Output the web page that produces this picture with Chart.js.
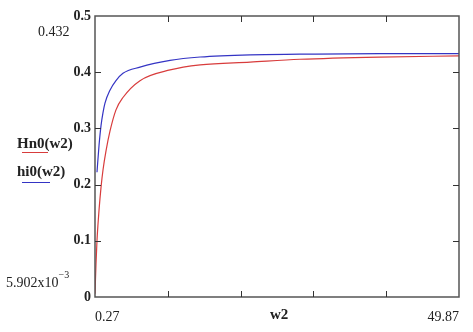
<!DOCTYPE html>
<html>
<head>
<meta charset="utf-8">
<script src="https://cdn.jsdelivr.net/npm/chart.js@4/dist/chart.umd.min.js"></script>
<style>
  body { margin: 0; background: #fff; }
  #wrap { position: relative; width: 473px; height: 332px; }
  .lbl { position: absolute; font-family: "Liberation Serif", "Times New Roman", serif; color: #222; white-space: nowrap; line-height: 1; }
  .b { font-weight: bold; }
</style>
</head>
<body>
<div id="wrap">
  <canvas id="c" width="473" height="332"></canvas>
  <div class="lbl" style="left:38px;top:25px;font-size:14px;">0.432</div>
  <div class="lbl" style="left:6px;top:276px;font-size:14px;">5.902x10<span style="position:relative;top:-9px;font-size:10px;">&minus;3</span></div>
  <div class="lbl b" style="left:17px;top:136px;font-size:15px;">Hn0(w2)</div>
  <div style="position:absolute;left:22px;top:152px;width:26px;height:1px;background:#d83c3c;"></div>
  <div class="lbl b" style="left:17px;top:164px;font-size:15px;">hi0(w2)</div>
  <div style="position:absolute;left:22px;top:182px;width:28px;height:1px;background:#3434c4;"></div>
  <div class="lbl b" style="left:270px;top:307px;font-size:15px;">w2</div>
</div>
<script>
// values
const wHi = [0.54, 0.82, 1.09, 1.36, 1.63, 2.31, 3.13, 4.08, 6.4, 10.5, 14.6, 21.4, 28.2, 39.1, 49.87];
const hi0 = [0.222, 0.27, 0.305, 0.328, 0.345, 0.368, 0.385, 0.398, 0.409, 0.421, 0.427, 0.431, 0.432, 0.433, 0.433];

const wHn = [0.27, 0.41, 0.54, 0.68, 0.82, 1.09, 1.36, 1.77, 2.31, 3.13, 4.08, 6.4, 10.5, 14.6, 21.4, 28.2, 39.1, 49.87];
const Hn0 = [0.0059, 0.06, 0.1, 0.13, 0.155, 0.195, 0.226, 0.26, 0.295, 0.333, 0.355, 0.385, 0.404, 0.413, 0.418, 0.423, 0.427, 0.429];

const xMin = 0.27, xMax = 49.87;
const xTicks = [0.27, 10.19, 20.11, 30.03, 39.95, 49.87];
const yTicks = [0, 0.1, 0.2, 0.3, 0.4, 0.5];

const pts = (xs, ys) => xs.map((x, i) => ({ x: x, y: ys[i] }));

// frame and inside tick marks, Mathcad style
const frame = {
  id: 'frame',
  afterDraw(chart) {
    const { ctx, chartArea: a, scales } = chart;
    ctx.save();
    ctx.strokeStyle = '#555';
    ctx.lineWidth = 1.5;
    ctx.strokeRect(a.left, a.top, a.right - a.left, a.bottom - a.top);
    ctx.strokeStyle = '#333';
    ctx.lineWidth = 1;
    ctx.beginPath();
    xTicks.slice(1, -1).forEach(v => {
      const px = Math.round(scales.x.getPixelForValue(v)) + 0.5;
      ctx.moveTo(px, a.bottom); ctx.lineTo(px, a.bottom - 6);
      ctx.moveTo(px, a.top); ctx.lineTo(px, a.top + 6);
    });
    yTicks.slice(1, -1).forEach(v => {
      const py = Math.round(scales.y.getPixelForValue(v)) + 0.5;
      ctx.moveTo(a.left, py); ctx.lineTo(a.left + 6, py);
      ctx.moveTo(a.right, py); ctx.lineTo(a.right - 6, py);
    });
    ctx.stroke();
    ctx.restore();
  }
};

new Chart(document.getElementById('c'), {
  type: 'line',
  data: {
    datasets: [
      {
        label: 'Hn0(w2)',
        data: pts(wHn, Hn0),
        borderColor: '#d83c3c',
        borderWidth: 1.2,
        pointRadius: 0,
        cubicInterpolationMode: 'monotone',
        fill: false,
      },
      {
        label: 'hi0(w2)',
        data: pts(wHi, hi0),
        borderColor: '#3434c4',
        borderWidth: 1.2,
        pointRadius: 0,
        cubicInterpolationMode: 'monotone',
        fill: false,
      },
    ],
  },
  options: {
    responsive: false,
    animation: false,
    layout: { padding: { top: 16, right: 14, left: 0, bottom: 0 } },
    plugins: { legend: { display: false }, tooltip: { enabled: false } },
    scales: {
      x: {
        type: 'linear',
        min: xMin,
        max: xMax,
        grid: { display: false, drawTicks: false },
        border: { display: false },
        afterBuildTicks: s => { s.ticks = xTicks.map(v => ({ value: v })); },
        afterFit: s => { s.height = 35; },
        ticks: {
          padding: 12,
          align: 'inner',
          maxRotation: 0,
          autoSkip: false,
          color: '#222',
          font: { family: 'Liberation Serif', size: 14 },
          callback: (v, i, t) => (i === 0 ? '0.27' : i === t.length - 1 ? '49.87' : ''),
        },
      },
      y: {
        min: 0,
        max: 0.5,
        grid: { display: false, drawTicks: false },
        border: { display: false },
        afterBuildTicks: s => { s.ticks = yTicks.map(v => ({ value: v })); },
        afterFit: s => { s.width = 95; },
        ticks: {
          padding: 4,
          color: '#222',
          font: { family: 'Liberation Serif', size: 14, weight: 'bold' },
          callback: v => String(Math.round(v * 10) / 10),
        },
      },
    },
  },
  plugins: [frame],
});
</script>
</body>
</html>
